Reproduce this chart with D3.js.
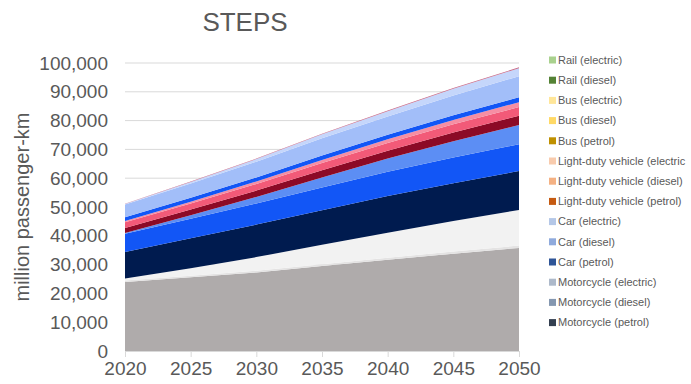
<!DOCTYPE html>
<html lang="en">
<head>
<meta charset="utf-8">
<title>STEPS</title>
<script src="https://d3js.org/d3.v7.min.js"></script>
<style>
  body { margin: 0; background: #fff; }
  svg text { font-family: "Liberation Sans", Arial, sans-serif; fill: #595959; }
</style>
</head>
<body>
<div id="chart"></div>
<script>
// years on the x axis
var years = [2020, 2025, 2030, 2035, 2040, 2045, 2050];

// series, stacked bottom to top
var seriesNames = [
  "Motorcycle (petrol)", "Motorcycle (diesel)", "Motorcycle (electric)",
  "Car (petrol)", "Car (diesel)", "Car (electric)",
  "Light-duty vehicle (petrol)", "Light-duty vehicle (diesel)", "Light-duty vehicle (electric",
  "Bus (petrol)", "Bus (diesel)", "Bus (electric)",
  "Rail (diesel)", "Rail (electric)"
];

var motoPetrol  = [24000, 25600, 27300, 29500, 31700, 33800, 35800];
var motoDiesel  = [500, 550, 600, 650, 700, 750, 800];
var motoElec    = [700, 2600, 4700, 6700, 8700, 10600, 12400];
var carPetrol   = [9200, 10400, 11300, 12000, 12700, 13100, 13500];
var carDiesel   = [6300, 6800, 7300, 7900, 8400, 8900, 9300];
var carElec     = [300, 1200, 2300, 3500, 4600, 5700, 6700];
var ldvPetrol   = [1700, 1950, 2200, 2500, 2750, 3000, 3200];
var ldvDiesel   = [2000, 2150, 2300, 2500, 2650, 2850, 3000];
var ldvElec     = [400, 600, 850, 1100, 1300, 1500, 1700];
var busPetrol   = [1300, 1350, 1400, 1500, 1550, 1650, 1700];
var busDiesel   = [4500, 5000, 5500, 6000, 6400, 6900, 7300];
var busElec     = [100, 500, 900, 1400, 1800, 2300, 2800];
var railDiesel  = [0, 0, 0, 0, 0, 0, 0];
var railElec    = [100, 130, 160, 200, 230, 270, 300];

var seriesValues = [motoPetrol, motoDiesel, motoElec, carPetrol, carDiesel, carElec,
  ldvPetrol, ldvDiesel, ldvElec, busPetrol, busDiesel, busElec, railDiesel, railElec];

// fill colours of the areas as drawn
var areaColors = ["#afabab", "#e4e3e3", "#f2f2f2", "#001b4f", "#1256f6", "#5c8ef4",
  "#8c0a26", "#f25a78", "#f68ea3", "#1256f6", "#a2bef9", "#c5d6fb", "#7a9a50", "#c86a88"];

// legend swatch colours
var legendColors = ["#333f50", "#8497b0", "#adb9ca", "#2f5597", "#8faadc", "#b4c7e7",
  "#c55a11", "#f4b183", "#f8cbad", "#bf9000", "#ffd966", "#ffe699", "#548235", "#a9d18e"];

var yTicks = d3.range(0, 100001, 10000);

var width = 691, height = 384;
var margin = {left: 125, right: 172, top: 63, bottom: 33};

var svg = d3.select("#chart").append("svg")
    .attr("width", width)
    .attr("height", height);

var x = d3.scaleLinear()
    .domain([2020, 2050])
    .range([margin.left, width - margin.right]);

var y = d3.scaleLinear()
    .domain([0, 100000])
    .range([height - margin.bottom, margin.top]);

// build table for the stack
var table = years.map(function(yr, i) {
  var row = {year: yr};
  seriesNames.forEach(function(n, k) { row[n] = seriesValues[k][i]; });
  return row;
});

var stacked = d3.stack().keys(seriesNames)(table);

// gridlines
svg.append("g")
  .selectAll("line")
  .data(yTicks.slice(1))
  .enter().append("line")
  .attr("x1", x(2020)).attr("x2", x(2050))
  .attr("y1", d => y(d)).attr("y2", d => y(d))
  .attr("stroke", "#d9d9d9")
  .attr("stroke-width", 1);

var area = d3.area()
    .x(d => x(d.data.year))
    .y0(d => y(d[0]))
    .y1(d => y(d[1]));

svg.append("g")
  .selectAll("path")
  .data(stacked)
  .enter().append("path")
  .attr("fill", (d, i) => areaColors[i])
  .attr("d", area);

// x axis
var xAxis = svg.append("g")
    .attr("transform", "translate(0," + y(0) + ")")
    .call(d3.axisBottom(x).tickValues(years).tickFormat(d3.format("d")).tickSize(6).tickPadding(5));
xAxis.select(".domain").attr("stroke", "#d9d9d9");
xAxis.selectAll(".tick line").attr("stroke", "#d9d9d9");
xAxis.selectAll("text").style("font-size", "19px").attr("fill", "#595959");

// y axis (labels only)
var yAxis = svg.append("g")
    .attr("transform", "translate(" + (margin.left - 5) + ",0)")
    .call(d3.axisLeft(y).tickValues(yTicks).tickFormat(d3.format(",")).tickSize(0).tickPadding(12));
yAxis.select(".domain").remove();
yAxis.selectAll("text").style("font-size", "19px").attr("fill", "#595959");

// y axis title
svg.append("text")
  .attr("transform", "translate(29," + (y(50000)) + ") rotate(-90)")
  .attr("text-anchor", "middle")
  .style("font-size", "20px")
  .text("million passenger-km");

// title
svg.append("text")
  .attr("x", 245)
  .attr("y", 31)
  .attr("text-anchor", "middle")
  .style("font-size", "26px")
  .text("STEPS");

// legend, reversed order (top series first)
var legendItems = seriesNames.map((n, i) => ({name: n, color: legendColors[i]})).reverse();

var legend = svg.append("g")
  .selectAll("g")
  .data(legendItems)
  .enter().append("g")
  .attr("transform", (d, i) => "translate(549," + (60 + i * 20.2) + ")");

legend.append("rect")
  .attr("x", 0).attr("y", -3.5)
  .attr("width", 7).attr("height", 7)
  .attr("fill", d => d.color);

legend.append("text")
  .attr("x", 9)
  .attr("dy", "0.35em")
  .style("font-size", "11px")
  .text(d => d.name);
</script>
</body>
</html>
